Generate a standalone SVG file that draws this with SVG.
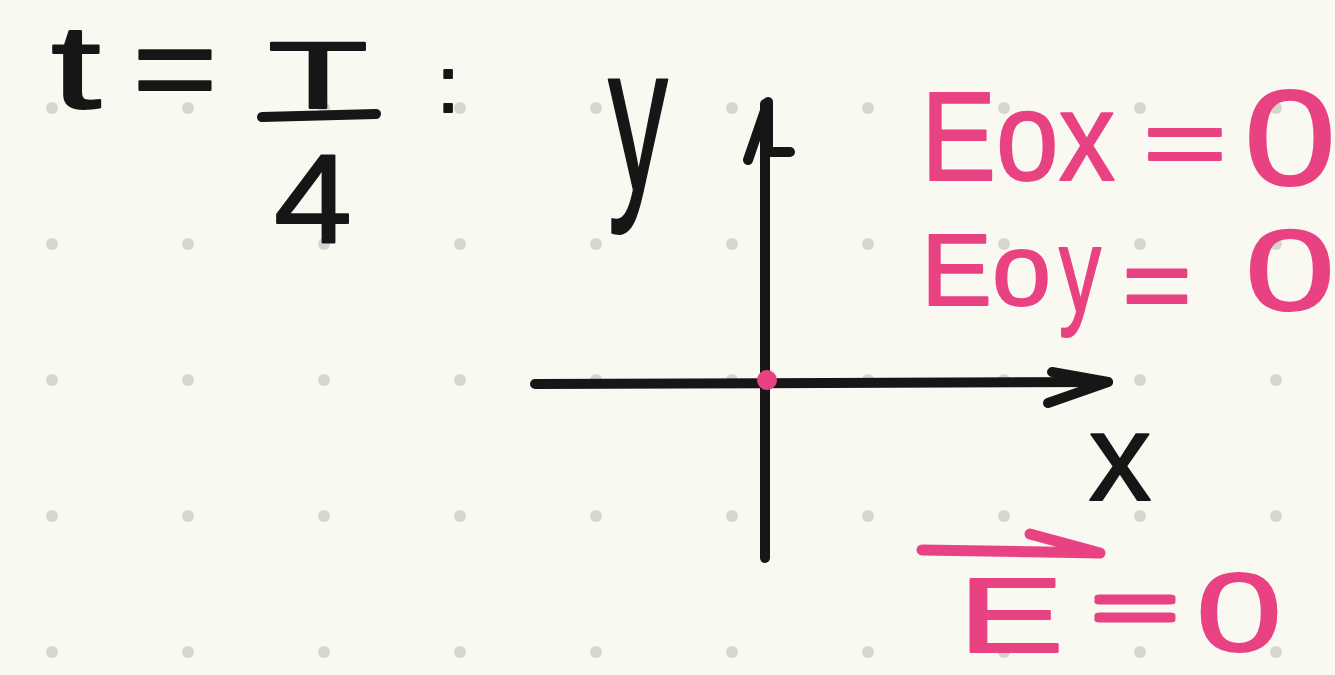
<svg xmlns="http://www.w3.org/2000/svg" width="1335" height="675" viewBox="0 0 1335 675">
<style>
.k{font-family:"Liberation Sans",Arial,sans-serif;fill:#161616;stroke:#161616;stroke-width:2;stroke-linejoin:round}
.p{font-family:"Liberation Sans",Arial,sans-serif;fill:#e94283;stroke:#e94283;stroke-width:2;stroke-linejoin:round}
.ks{fill:none;stroke:#161616;stroke-width:10;stroke-linecap:round;stroke-linejoin:round}
.ps{fill:none;stroke:#e94283;stroke-width:11;stroke-linecap:round;stroke-linejoin:round}
</style>
<defs>
<pattern id="dots" x="-16" y="40" width="136" height="136" patternUnits="userSpaceOnUse">
<circle cx="68" cy="68" r="6" fill="#d6d6cf"/>
</pattern>
</defs>
<rect width="1335" height="675" fill="#f9f9f2"/>
<rect width="1335" height="675" fill="url(#dots)"/>

<g id="time-label">
<text class="k" x="76" y="108" font-size="118" text-anchor="middle" textLength="50" lengthAdjust="spacingAndGlyphs">t</text>
<text class="k" x="175" y="111" font-size="122" text-anchor="middle" textLength="85" lengthAdjust="spacingAndGlyphs">=</text>
<text class="k" x="318" y="108" font-size="95" text-anchor="middle" textLength="100" lengthAdjust="spacingAndGlyphs">T</text>
<path class="ks" d="M262 117 L376 114"/>
<text class="k" x="313" y="243" font-size="127" text-anchor="middle" textLength="78" lengthAdjust="spacingAndGlyphs">4</text>
<text class="k" x="448" y="112" font-size="80" text-anchor="middle">:</text>
</g>

<g id="axes">
<path class="ks" d="M765 558 L765 104"/>
<path class="ks" d="M748 160 L768 102 L768 152 L790 152"/>
<path class="ks" d="M535 384 L1108 382"/>
<path class="ks" d="M1052 372 L1108 382 L1048 403"/>
<circle cx="767" cy="380" r="10" fill="#e94283"/>
<text class="k" x="638" y="190" font-size="210" text-anchor="middle" textLength="60" lengthAdjust="spacingAndGlyphs">y</text>
<text class="k" x="1120" y="500" font-size="125" text-anchor="middle">x</text>
</g>

<g id="eox">
<text class="p" x="921" y="180" font-size="126" textLength="194" lengthAdjust="spacingAndGlyphs">Eox</text>
<text class="p" x="1185" y="176" font-size="97" text-anchor="middle" textLength="85" lengthAdjust="spacingAndGlyphs">=</text>
<text class="p" x="1290" y="185" font-size="135" text-anchor="middle" textLength="92" lengthAdjust="spacingAndGlyphs">0</text>
</g>

<g id="eoy">
<text class="p" x="921" y="305" font-size="102" textLength="130" lengthAdjust="spacingAndGlyphs">Eo</text>
<text class="p" x="1080" y="312" font-size="120" text-anchor="middle" textLength="42" lengthAdjust="spacingAndGlyphs">y</text>
<text class="p" x="1157" y="320" font-size="103" text-anchor="middle" textLength="70" lengthAdjust="spacingAndGlyphs">=</text>
<text class="p" x="1290" y="310" font-size="115" text-anchor="middle" textLength="90" lengthAdjust="spacingAndGlyphs">0</text>
</g>

<g id="e-vector">
<path class="ps" d="M922 550 L1100 553 M1030 534 L1100 553"/>
<text class="p" x="1011" y="652" font-size="106" text-anchor="middle" textLength="106" lengthAdjust="spacingAndGlyphs">E</text>
<text class="p" x="1135" y="632" font-size="71" text-anchor="middle" textLength="85" lengthAdjust="spacingAndGlyphs" style="stroke-width:5">=</text>
<text class="p" x="1239" y="651" font-size="112" text-anchor="middle" textLength="86" lengthAdjust="spacingAndGlyphs">0</text>
</g>
</svg>
